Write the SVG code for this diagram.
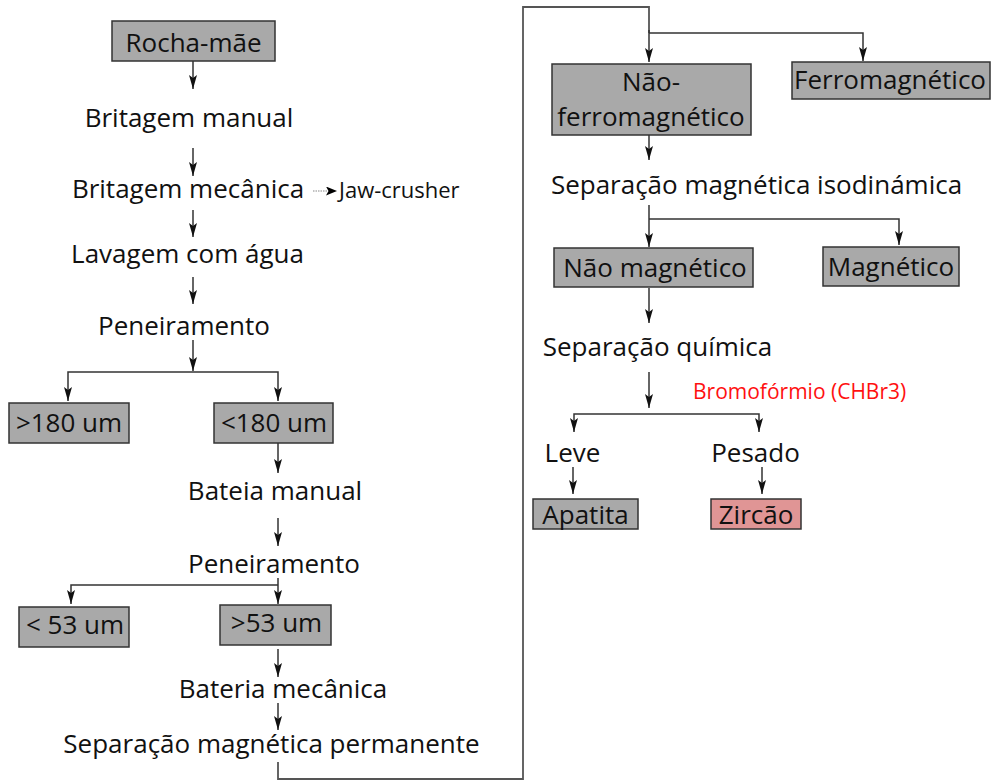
<svg xmlns="http://www.w3.org/2000/svg" width="991" height="784" viewBox="0 0 991 784">
<style>
text{font-family:"Open Sans","Noto Sans","Liberation Sans",sans-serif;font-size:26px;fill:#111;}
.m{text-anchor:middle;}
.s{font-size:21px;}
.j{font-size:22px;}
.red{fill:#ff1010;}
.box{fill:#a9a9a9;stroke:#333;stroke-width:1.5;}
.pink{fill:#e09595;stroke:#333;stroke-width:1.5;}
.c path{fill:none;stroke:#333;stroke-width:1.5;}
.c .ret{stroke:#555;stroke-width:1.8;}
.c .dot{stroke:#888;stroke-width:1.2;stroke-dasharray:1.5 1;}
</style>
<defs>
<marker id="ah" viewBox="0 0 14 8" refX="14" refY="4" markerWidth="14" markerHeight="8" markerUnits="userSpaceOnUse" orient="auto">
<path d="M0,0 L14,4 L0,8 L3,4 Z" fill="#111"/>
</marker>
<marker id="ah2" viewBox="0 0 11 9" refX="11" refY="4.5" markerWidth="11" markerHeight="9" markerUnits="userSpaceOnUse" orient="auto">
<path d="M0,0 L11,4.5 L0,9 L2.5,4.5 Z" fill="#000"/>
</marker>
</defs>
<rect width="991" height="784" fill="#fff"/>
<g class="c" id="connectors">
<path d="M193,61 V89" marker-end="url(#ah)"/>
<path d="M193,148 V176" marker-end="url(#ah)"/>
<path d="M313,191 H328" class="dot"/>
<path d="M326,191 H337" marker-end="url(#ah2)" style="stroke:none"/>
<path d="M193,210 V237" marker-end="url(#ah)"/>
<path d="M193,277 V304" marker-end="url(#ah)"/>
<path d="M193,340 V371" marker-end="url(#ah)"/>
<path d="M193,372 H68 V401" marker-end="url(#ah)"/>
<path d="M193,372 H278 V401" marker-end="url(#ah)"/>
<path d="M278,443 V473" marker-end="url(#ah)"/>
<path d="M278,518 V546" marker-end="url(#ah)"/>
<path d="M278,578 V604" marker-end="url(#ah)"/>
<path d="M278,585 H71 V604" marker-end="url(#ah)"/>
<path d="M278,649 V677" marker-end="url(#ah)"/>
<path d="M278,703 V730" marker-end="url(#ah)"/>
<path class="ret" d="M278,762 V779 H523 V7 H649 V33"/>
<path d="M649,30 V62" marker-end="url(#ah)"/>
<path d="M649,33 H863 V61" marker-end="url(#ah)"/>
<path d="M649,135 V160" marker-end="url(#ah)"/>
<path d="M649,205 V247" marker-end="url(#ah)"/>
<path d="M649,219 H899 V245" marker-end="url(#ah)"/>
<path d="M649,288 V323" marker-end="url(#ah)"/>
<path d="M649,372 V408" marker-end="url(#ah)"/>
<path d="M649,414 H574 V432" marker-end="url(#ah)"/>
<path d="M649,414 H759 V432" marker-end="url(#ah)"/>
<path d="M573,467 V494" marker-end="url(#ah)"/>
<path d="M762,467 V494" marker-end="url(#ah)"/>
</g>
<g id="rocha"><rect class="box" x="112" y="21" width="163" height="40"/><text class="m" x="193.5" y="52">Rocha-mãe</text></g>
<g id="britagem-manual"><text class="m" x="189" y="127">Britagem manual</text></g>
<g id="britagem-mecanica"><text class="m" x="188" y="198">Britagem mecânica</text></g>
<g id="jaw-crusher"><text class="j" x="339" y="198">Jaw-crusher</text></g>
<g id="lavagem"><text class="m" x="187.5" y="263">Lavagem com água</text></g>
<g id="peneiramento1"><text class="m" x="184" y="335">Peneiramento</text></g>
<g id="gt180"><rect class="box" x="9" y="403" width="120" height="40"/><text class="m" x="69" y="432">&gt;180 um</text></g>
<g id="lt180"><rect class="box" x="214" y="403" width="119" height="40"/><text class="m" x="274" y="432">&lt;180 um</text></g>
<g id="bateia"><text class="m" x="275" y="500">Bateia manual</text></g>
<g id="peneiramento2"><text class="m" x="274" y="573">Peneiramento</text></g>
<g id="lt53"><rect class="box" x="19" y="607" width="110" height="40"/><text class="m" x="75" y="634">&lt; 53 um</text></g>
<g id="gt53"><rect class="box" x="220" y="605" width="111" height="40"/><text class="m" x="276.5" y="632">&gt;53 um</text></g>
<g id="bateria"><text class="m" x="283" y="698">Bateria mecânica</text></g>
<g id="sep-perm"><text class="m" x="271.5" y="753">Separação magnética permanente</text></g>
<g id="nao-ferro"><rect class="box" x="552" y="64" width="199" height="71"/><text class="m" x="651" y="91">Não-</text><text class="m" x="651" y="126">ferromagnético</text></g>
<g id="ferro"><rect class="box" x="792" y="62" width="198" height="37"/><text class="m" x="890" y="89">Ferromagnético</text></g>
<g id="sep-iso"><text class="m" x="756.5" y="194">Separação magnética isodinámica</text></g>
<g id="nao-mag"><rect class="box" x="554" y="248" width="199" height="39"/><text class="m" x="655" y="277">Não magnético</text></g>
<g id="mag"><rect class="box" x="823" y="247" width="136" height="39"/><text class="m" x="891" y="276">Magnético</text></g>
<g id="sep-quim"><text class="m" x="657.5" y="356">Separação química</text></g>
<g id="bromo"><text class="s red" x="693" y="399">Bromofórmio (CHBr3)</text></g>
<g id="leve"><text class="m" x="572.5" y="462">Leve</text></g>
<g id="pesado"><text class="m" x="755.5" y="462">Pesado</text></g>
<g id="apatita"><rect class="box" x="533" y="499" width="105" height="30"/><text class="m" x="585.5" y="524">Apatita</text></g>
<g id="zircao"><rect class="pink" x="711" y="499" width="90" height="30"/><text class="m" x="756" y="524">Zircão</text></g>
</svg>
